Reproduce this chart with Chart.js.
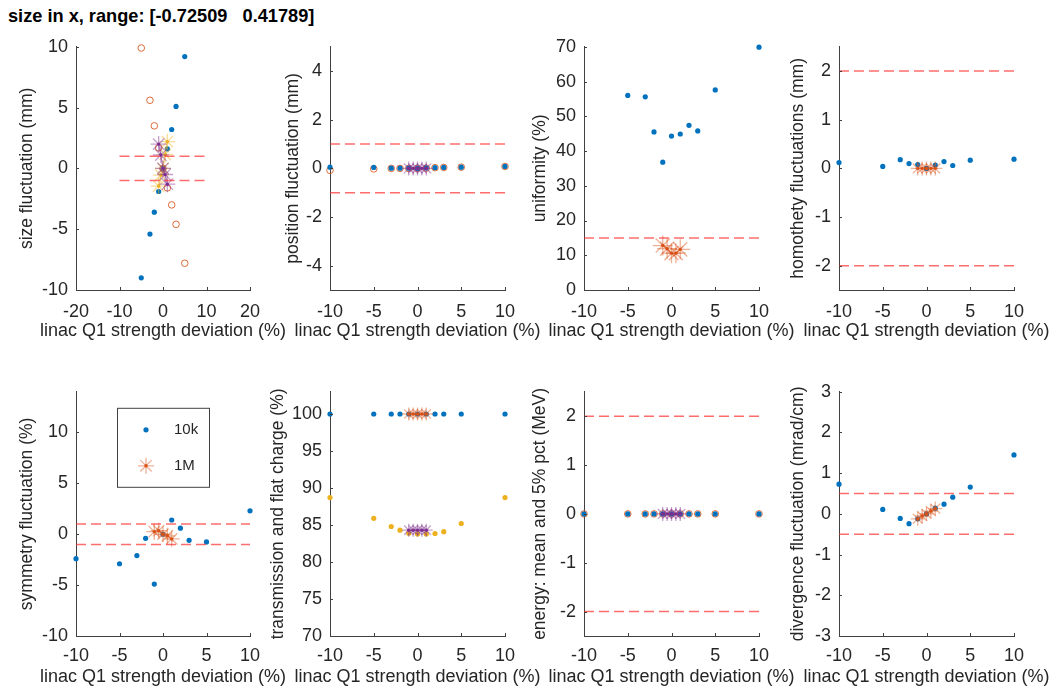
<!DOCTYPE html>
<html>
<head>
<meta charset="utf-8">
<script src="https://cdn.jsdelivr.net/npm/chart.js@4.4.0/dist/chart.umd.min.js"></script>
<style>
body{margin:0;background:#fff;width:1053px;height:690px;overflow:hidden;position:relative;font-family:"Liberation Sans",Arial,sans-serif;}
#title{position:absolute;left:8px;top:5px;font-weight:bold;font-size:18.2px;line-height:22px;white-space:pre;color:#000;}
canvas{position:absolute;}
</style>
</head>
<body>
<div id="title">size in x, range: [-0.72509   0.41789]</div>
<canvas id="p1"></canvas>
<canvas id="p2"></canvas>
<canvas id="p3"></canvas>
<canvas id="p4"></canvas>
<canvas id="p5"></canvas>
<canvas id="p6"></canvas>
<canvas id="p7"></canvas>
<canvas id="p8"></canvas>
<script>
// Q1 strength deviations (%) for the 10k and 1M runs
let devX=[-10,-5,-3,-2,-1,0,1,2,3,5,10];
let devX1M=[-1,-0.5,0,0.5,1];
let limitSpan=[-10,10];

// tick labels
let xTicksWide=[-20,-10,0,10,20];
let xTicks=[-10,-5,0,5,10];
let sizeTicks=[-10,-5,0,5,10];
let posTicks=[-4,-2,0,2,4];
let unifTicks=[0,10,20,30,40,50,60,70];
let homoTicks=[-2,-1,0,1,2];
let symTicks=[-10,-5,0,5,10];
let transTicks=[70,75,80,85,90,95,100];
let energyTicks=[-2,-1,0,1,2];
let divTicks=[-3,-2,-1,0,1,2,3];

// size fluctuation (mm)
let sizeX=[-5,-3,-2,-1,0,1,2,3,5];
let size10k=[-9.0,-5.4,-3.6,-1.9,0,1.6,3.2,5.1,9.2];
let size10kB=[9.9,5.6,3.5,1.7,0,-1.6,-3.0,-4.6,-7.8];
let size1M=[2.0,1.1,0,-0.5,-1.3];
let size1MB=[-1.45,-0.55,0,1.15,2.2];
let sizeLimits=[-1,1];

// position fluctuation (mm)
let pos10k=[0.05,0.04,0.01,0.01,0.01,0,0.02,0.03,0.04,0.05,0.08];
let pos10kB=[-0.08,-0.02,0.0,0.0,0.0,0,0.01,0.03,0.04,0.05,0.08];
let pos1M=[0,0,0,0,0];
let posLimits=[-1,1];

// uniformity (%)
let unifX=[-5,-3,-2,-1,0,1,2,3,5,10];
let unif10k=[56.0,55.6,45.5,36.8,44.3,44.9,47.4,45.8,57.6,69.9];
let unif1M=[12.8,11.9,10.6,10.6,11.7];
let unifLimits=[15];

// homothety fluctuations (mm)
let homo10k=[0.12,0.04,0.18,0.10,0.08,0,0.07,0.14,0.06,0.17,0.19];
let homo1M=[0,0,0,0,0];
let homoLimits=[-2,2];

// symmetry fluctuation (%)
let sym10k=[-2.4,-2.9,-2.1,-0.4,-4.9,0,1.4,0.6,-0.6,-0.75,2.3];
let sym1M=[0.25,0.35,0,-0.15,-0.45];
let symLimits=[-1,1];

// transmission and flat charge (%)
let trans10k=[100,100,100,100,100,100,100,100,100,100,100];
let trans1M=[100,100,100,100,100];
let flat10k=[88.7,85.9,84.8,84.3,83.9,83.8,83.8,83.85,84.1,85.2,88.7];
let flat1M=[84.3,84.3,84.3,84.3,84.3];

// energy: mean and 5% pct (MeV)
let energy10k=[0,0,0,0,0,0,0,0,0,0,0];
let energy10kB=[0,0,0,0,0,0,0,0,0,0,0];
let energy1M=[0,0,0,0,0];
let energyLimits=[-2,2];

// divergence fluctuation (mrad/cm)
let div10k=[0.73,0.11,-0.11,-0.24,-0.12,0,0.14,0.24,0.41,0.66,1.45];
let div1M=[-0.12,-0.05,0,0.07,0.13];
let divLimits=[-0.5,0.5];

const FONT='"Liberation Sans", Arial, Helvetica, sans-serif';
const TEXT='#262626';
const AXIS='#404040';
const blue='#0072BD', orange='#D95319', yellow='#EDB120', purple='#7E2F8E';

function fade(hex,a){
    let n=parseInt(hex.slice(1),16);
    return 'rgba('+(n>>16)+','+((n>>8)&255)+','+(n&255)+','+a+')';
}
function pts(xs,ys){
    return xs.map((x,i)=>({x:x,y:ys[i]}));
}
function dots(label,xs,ys,color){
    return {label:label,data:pts(xs,ys),pointStyle:'circle',pointRadius:2.6,pointBackgroundColor:color,
        pointBorderWidth:0,borderWidth:0,showLine:false,clip:false};
}
function rings(label,xs,ys,color){
    return {label:label,data:pts(xs,ys),pointStyle:'circle',pointRadius:3.3,pointBackgroundColor:'rgba(0,0,0,0)',
        pointBorderColor:fade(color,0.85),pointBorderWidth:1,showLine:false,clip:false};
}
// 1M runs: star markers joined by a line, with a dot in the middle
function stars(label,xs,ys,color,r){
    return [
        {label:label,data:pts(xs,ys),pointStyle:'star',pointRadius:r,pointBorderColor:fade(color,0.45),
            pointBorderWidth:1.3,pointBackgroundColor:'rgba(0,0,0,0)',showLine:true,borderColor:fade(color,0.55),
            borderWidth:1.2,clip:false},
        {label:label,data:pts(xs,ys),pointStyle:'circle',pointRadius:1.7,pointBackgroundColor:color,
            pointBorderWidth:0,showLine:false,clip:false}
    ];
}
function limits(levels){
    return levels.map(v=>({label:'limit',data:pts(limitSpan,[v,v]),showLine:true,borderColor:'rgba(255,45,45,0.7)',
        borderWidth:1.5,borderDash:[10,5],pointRadius:0,clip:false}));
}

// inward tick marks, axis titles and the legend box
let axisExtras={
    id:'axisExtras',
    afterDraw(chart,args,opts){
        let ctx=chart.ctx, a=chart.chartArea;
        let xs=chart.scales.x, ys=chart.scales.y;
        ctx.save();
        ctx.strokeStyle=AXIS;
        ctx.lineWidth=1;
        ctx.beginPath();
        xs.ticks.forEach(t=>{
            let px=Math.round(xs.getPixelForValue(t.value))+0.5;
            ctx.moveTo(px,a.bottom);ctx.lineTo(px,a.bottom-3);
        });
        ys.ticks.forEach(t=>{
            let py=Math.round(ys.getPixelForValue(t.value))+0.5;
            ctx.moveTo(a.left,py);ctx.lineTo(a.left+3,py);
        });
        ctx.stroke();

        ctx.fillStyle=TEXT;
        ctx.textAlign='center';
        ctx.textBaseline='middle';
        ctx.font='18px '+FONT;
        ctx.fillText(opts.xTitle,(a.left+a.right)/2,a.bottom+41.5);
        ctx.save();
        ctx.font='17.5px '+FONT;
        ctx.translate(a.left-opts.yGap,(a.top+a.bottom)/2);
        ctx.rotate(-Math.PI/2);
        ctx.fillText(opts.yTitle,0,0);
        ctx.restore();

        if(opts.legend){
            let L=opts.legend;
            let bx=a.left+L.dx, by=a.top+L.dy;
            ctx.fillStyle='#fff';
            ctx.fillRect(bx,by,L.w,L.h);
            ctx.strokeStyle=AXIS;
            ctx.strokeRect(bx+0.5,by+0.5,L.w,L.h);
            ctx.font='15px '+FONT;
            ctx.textAlign='left';
            L.rows.forEach((row,k)=>{
                let cy=by+L.rowY[k], cx=bx+L.markX;
                row.forEach(i=>{
                    let ds=chart.data.datasets[i];
                    ctx.fillStyle=ds.pointBackgroundColor;
                    ctx.strokeStyle=ds.pointBorderColor||ds.pointBackgroundColor;
                    ctx.lineWidth=ds.pointBorderWidth||1;
                    Chart.helpers.drawPoint(ctx,{pointStyle:ds.pointStyle,radius:ds.pointRadius,
                        borderWidth:ds.pointBorderWidth,rotation:0},cx,cy);
                });
                ctx.fillStyle=TEXT;
                ctx.fillText(chart.data.datasets[row[0]].label,bx+L.textX,cy);
            });
        }
        ctx.restore();
    }
};

let panels=[
    {id:'p1',left:76,top:43,w:174,h:247,xMin:-20,xMax:20,xT:xTicksWide,yMin:-10,yMax:10,yT:sizeTicks,
        yTitle:'size fluctuation (mm)',yGap:49,tickPad:11,
        datasets:[...limits(sizeLimits),...stars('1M',devX1M,size1M,purple,8),...stars('1M',devX1M,size1MB,yellow,8),
            rings('10k',sizeX,size10kB,orange),dots('10k',sizeX,size10k,blue)]},
    {id:'p2',left:330,top:43,w:175,h:247,xMin:-10,xMax:10,xT:xTicks,yMin:-5,yMax:5,yT:posTicks,
        yTitle:'position fluctuation (mm)',yGap:37,tickPad:11,
        datasets:[...limits(posLimits),...stars('1M',devX1M,pos1M,purple,7),
            dots('10k',devX,pos10k,blue),rings('10k',devX,pos10kB,orange)]},
    {id:'p3',left:584,top:43,w:175,h:247,xMin:-10,xMax:10,xT:xTicks,yMin:0,yMax:70,yT:unifTicks,
        yTitle:'uniformity (%)',yGap:44,tickPad:11,
        datasets:[...limits(unifLimits),...stars('1M',devX1M,unif1M,orange,10),dots('10k',unifX,unif10k,blue)]},
    {id:'p4',left:839,top:43,w:175,h:247,xMin:-10,xMax:10,xT:xTicks,yMin:-2.5,yMax:2.5,yT:homoTicks,
        yTitle:'homothety fluctuations (mm)',yGap:41,tickPad:11,
        datasets:[...limits(homoLimits),...stars('1M',devX1M,homo1M,orange,7),dots('10k',devX,homo10k,blue)]},
    {id:'p5',left:76,top:388,w:174,h:248,xMin:-10,xMax:10,xT:xTicks,yMin:-10,yMax:14,yT:symTicks,
        yTitle:'symmetry fluctuation (%)',yGap:49,tickPad:9,
        datasets:[...limits(symLimits),...stars('1M',devX1M,sym1M,orange,8),dots('10k',devX,sym10k,blue)],
        legend:{dx:41,dy:16,w:92,h:79,markX:29,textX:57,rowY:[22,58],rows:[[4],[2,3]]}},
    {id:'p6',left:330,top:388,w:175,h:248,xMin:-10,xMax:10,xT:xTicks,yMin:70,yMax:103,yT:transTicks,
        yTitle:'transmission and flat charge (%)',yGap:52,tickPad:9,
        datasets:[...stars('1M',devX1M,trans1M,orange,6.5),...stars('1M',devX1M,flat1M,purple,6.5),
            dots('10k',devX,trans10k,blue),dots('10k',devX,flat10k,yellow)]},
    {id:'p7',left:584,top:388,w:175,h:248,xMin:-10,xMax:10,xT:xTicks,yMin:-2.5,yMax:2.5,yT:energyTicks,
        yTitle:'energy: mean and 5% pct (MeV)',yGap:44,tickPad:9,
        datasets:[...limits(energyLimits),...stars('1M',devX1M,energy1M,purple,7),
            dots('10k',devX,energy10k,blue),rings('10k',devX,energy10kB,orange)]},
    {id:'p8',left:839,top:388,w:175,h:248,xMin:-10,xMax:10,xT:xTicks,yMin:-3,yMax:3,yT:divTicks,
        yTitle:'divergence fluctuation (mrad/cm)',yGap:41,tickPad:9,
        datasets:[...limits(divLimits),...stars('1M',devX1M,div1M,orange,7),dots('10k',devX,div10k,blue)]}
];

const Y_W=66, X_H=56, PAD_T=15, PAD_R=44;

function makePanel(p){
    let cv=document.getElementById(p.id);
    cv.width=Y_W+p.w+PAD_R;
    cv.height=PAD_T+p.h+X_H;
    cv.style.left=(p.left-Y_W)+'px';
    cv.style.top=(p.top-PAD_T)+'px';
    let tickFont={family:FONT,size:18};
    new Chart(cv,{
        type:'scatter',
        data:{datasets:p.datasets},
        plugins:[axisExtras],
        options:{
            responsive:false,
            animation:false,
            events:[],
            layout:{padding:{left:0,top:PAD_T,right:PAD_R,bottom:0}},
            plugins:{
                legend:{display:false},
                tooltip:{enabled:false},
                axisExtras:{xTitle:'linac Q1 strength deviation (%)',yTitle:p.yTitle,yGap:p.yGap,legend:p.legend}
            },
            scales:{
                x:{type:'linear',min:p.xMin,max:p.xMax,
                    grid:{display:false,drawTicks:false},
                    border:{display:true,color:AXIS,width:1},
                    ticks:{color:TEXT,font:tickFont,padding:p.tickPad,maxRotation:0,autoSkip:false},
                    afterBuildTicks:s=>{s.ticks=p.xT.map(v=>({value:v}));},
                    afterFit:s=>{s.height=X_H;}},
                y:{type:'linear',min:p.yMin,max:p.yMax,
                    grid:{display:false,drawTicks:false},
                    border:{display:true,color:AXIS,width:1},
                    ticks:{color:TEXT,font:tickFont,padding:8,autoSkip:false},
                    afterBuildTicks:s=>{s.ticks=p.yT.map(v=>({value:v}));},
                    afterFit:s=>{s.width=Y_W;}}
            }
        }
    });
}
panels.forEach(makePanel);
</script>
</body>
</html>
